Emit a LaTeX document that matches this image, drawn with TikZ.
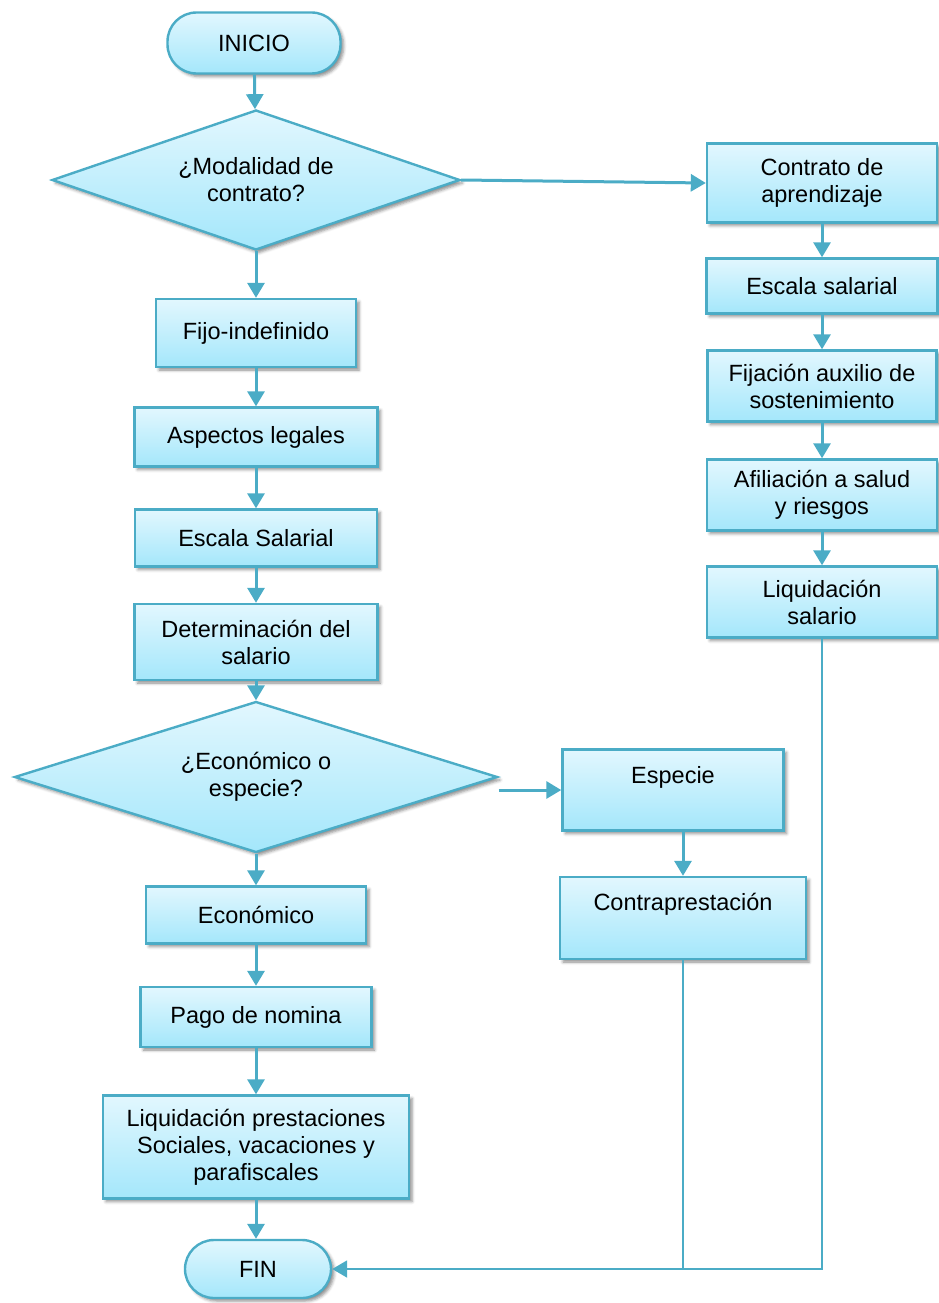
\documentclass[tikz,border=0pt]{standalone}
\usepackage{fontspec}
\setmainfont{Liberation Sans}
\usetikzlibrary{arrows.meta,shapes.geometric,shadows.blur}
\definecolor{boxline}{HTML}{4BACC6}
\definecolor{boxtop}{HTML}{E2F7FE}
\definecolor{boxbot}{HTML}{A4E7FB}
\tikzset{
  stepbox/.style={draw=boxline,line width=2.4pt,
                  top color=boxtop,bottom color=boxbot,
                  inner sep=0pt,align=center,
                  font=\fontsize{23.5}{27}\selectfont,
                  blur shadow={shadow xshift=3pt,shadow yshift=-3pt,
                               shadow blur radius=3pt,shadow opacity=45}},
  startend/.style={stepbox,rounded corners=29pt},
  decision/.style={stepbox,diamond},
  flowarr/.style={-{Triangle[length=15pt,width=17pt]},line width=3pt,draw=boxline},
  backline/.style={line width=2pt,draw=boxline}
}

\begin{document}
\begin{tikzpicture}[x=1pt,y=-1pt]
  \useasboundingbox (0,0) rectangle (938,1303);

  % main column
  \node[startend,minimum width=173pt,minimum height=61pt] (inicio) at (254,43) {INICIO};
  \node[decision,aspect=2.91,minimum width=408pt,minimum height=140pt] (modalidad) at (256,180) {¿Modalidad de\\contrato?};
  \node[stepbox,minimum width=200pt,minimum height=68pt] (fijo) at (256,333) {Fijo-indefinido};
  \node[stepbox,minimum width=243pt,minimum height=59pt] (aspectos) at (256,437) {Aspectos legales};
  \node[stepbox,minimum width=242pt,minimum height=57pt] (escalaF) at (256,538) {Escala Salarial};
  \node[stepbox,minimum width=243pt,minimum height=76pt] (determ) at (256,642) {Determinación del\\salario};
  \node[decision,aspect=3.2,minimum width=483pt,minimum height=151pt] (tipo) at (256,777) {¿Económico o\\especie?};
  \node[stepbox,minimum width=220pt,minimum height=57pt] (economico) at (256,915) {Económico};
  \node[stepbox,minimum width=231pt,minimum height=60pt] (pago) at (256,1017) {Pago de nomina};
  \node[stepbox,minimum width=306pt,minimum height=103pt] (liqprest) at (256,1147) {Liquidación prestaciones\\Sociales, vacaciones  y\\parafiscales};
  \node[startend,minimum width=146pt,minimum height=58pt] (fin) at (258,1269) {FIN};

  % aprendizaje column
  \node[stepbox,minimum width=230pt,minimum height=79pt] (contrato) at (822,183) {Contrato de\\aprendizaje};
  \node[stepbox,minimum width=231pt,minimum height=55pt] (escalaA) at (822,286) {Escala salarial};
  \node[stepbox,minimum width=229pt,minimum height=71pt] (fijacion) at (822,386) {Fijación auxilio de\\sostenimiento};
  \node[stepbox,minimum width=230pt,minimum height=71pt] (afiliacion) at (822,495) {Afiliación a salud\\y riesgos};
  \node[stepbox,minimum width=230pt,minimum height=71pt] (liqsal) at (822,602) {Liquidación\\salario};

  % especie column
  \node[stepbox,minimum width=221pt,text height=34pt,text depth=47pt] (especie) at (673,790) {Especie};
  \node[stepbox,minimum width=246pt,text height=33pt,text depth=49pt] (contrap) at (683,918) {Contraprestación};

  % connectors
  \draw[flowarr] (inicio) -- (modalidad);
  \draw[flowarr] (modalidad.east) -- (contrato.west);
  \draw[flowarr] (modalidad) -- (fijo);
  \draw[flowarr] (fijo) -- (aspectos);
  \draw[flowarr] (aspectos) -- (escalaF);
  \draw[flowarr] (escalaF) -- (determ);
  \draw[flowarr] (determ) -- (tipo);
  \draw[flowarr] (tipo.east |- especie.west) -- (especie.west);
  \draw[flowarr] (tipo) -- (economico);
  \draw[flowarr] (economico) -- (pago);
  \draw[flowarr] (pago) -- (liqprest);
  \draw[flowarr] (liqprest.south) -- (liqprest.south |- fin.north);
  \draw[flowarr] (contrato) -- (escalaA);
  \draw[flowarr] (escalaA) -- (fijacion);
  \draw[flowarr] (fijacion) -- (afiliacion);
  \draw[flowarr] (afiliacion) -- (liqsal);
  \draw[flowarr] (contrap.north |- especie.south) -- (contrap.north);

  % return lines to FIN
  \draw[backline] (contrap.south) -- (contrap.south |- fin.east);
  \draw[backline,-{Triangle[length=15pt,width=17pt]}] (liqsal.south) -- (liqsal.south |- fin.east) -- (fin.east);
\end{tikzpicture}
\end{document}
